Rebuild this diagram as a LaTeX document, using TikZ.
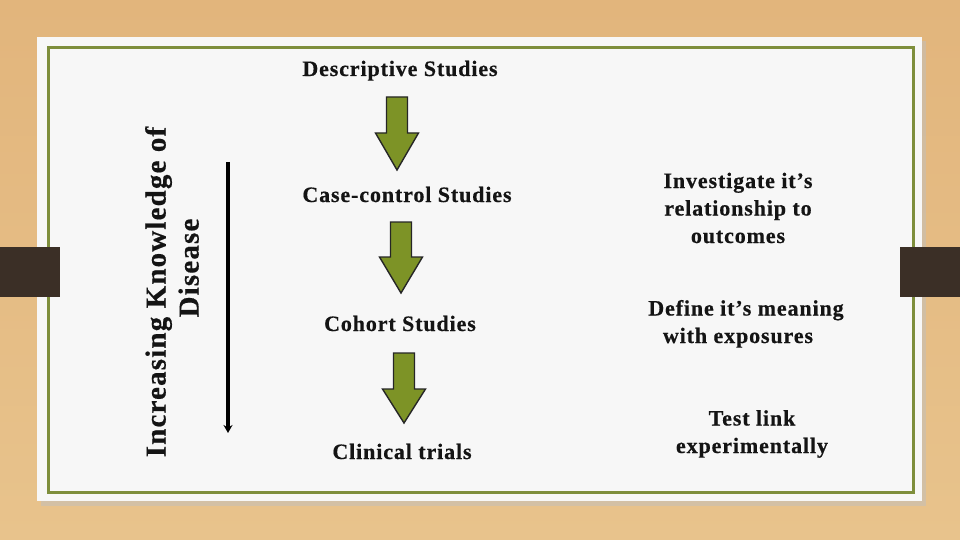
\documentclass[tikz,border=0pt]{standalone}
\usepackage{fontspec}
\setmainfont{Liberation Serif}[LetterSpace=4, BoldFeatures={FakeBold=0.5}]
\usetikzlibrary{arrows.meta}
\definecolor{wood}{HTML}{E8C38C}
\definecolor{woodtop}{HTML}{E2B57C}
\definecolor{tab}{HTML}{3B2F26}
\definecolor{frame}{HTML}{7E8E3C}
\definecolor{olive}{HTML}{7D9326}
\definecolor{ink}{HTML}{141414}

\begin{document}
\begin{tikzpicture}[x=1pt, y=-1pt, thick,
    txt/.style = {font=\bfseries\fontsize{22}{27.5}\selectfont, text=ink, align=center, inner sep=0pt},
    side/.style = {font=\bfseries\fontsize{29}{33}\selectfont, text=ink, align=center, inner sep=0pt},
    down/.style = {fill=olive, draw=black!85, line width=1.4pt, line join=miter}]
    \useasboundingbox (0,0) rectangle (960,540);
    \shade[top color=woodtop, bottom color=wood] (0,0) rectangle (960,540);
    \fill[black!25, opacity=0.5] (41,41) rectangle (926,506);
    \fill[white!97!black] (37,37) rectangle (922,501);
    \draw[frame, line width=3pt] (48,48) rectangle (913,492);
    \fill[tab] (0,247) rectangle (60,297);
    \fill[tab] (900,247) rectangle (960,297);

    \node[txt, anchor=base] (desc) at (400,76) {Descriptive Studies};
    \node[txt, anchor=base] (case) at (407,202) {Case-control Studies};
    \node[txt, anchor=base] (coh) at (400,331) {Cohort Studies};
    \node[txt, anchor=base] (clin) at (402,459) {Clinical trials};

    \node[txt, anchor=base] (inv) at (738,243) {Investigate it’s\\relationship to\\outcomes};
    \node[txt, anchor=base] (def) at (746,343) {Define it’s meaning\\with exposures\hspace*{16pt}};
    \node[txt, anchor=base] (test) at (752,453) {Test link\\experimentally};

    \node[side, rotate=90] (know) at (172,292) {Increasing Knowledge of\\\hspace*{48pt}Disease};

    \foreach \cx/\top/\hs/\tip in {397/97/133/170, 401/222/257/293, 404/353/389/423}
        \draw[down] (\cx-10.5,\top) -- (\cx+10.5,\top) -- (\cx+10.5,\hs) -- (\cx+21.5,\hs)
            -- (\cx,\tip) -- (\cx-21.5,\hs) -- (\cx-10.5,\hs) -- cycle;

    \coordinate (up) at (228,162);
    \coordinate (bot) at (228,433);
    \draw[-{Stealth[length=8pt,width=9pt]}, line width=3.5pt] (up) -- (bot);
\end{tikzpicture}
\end{document}
